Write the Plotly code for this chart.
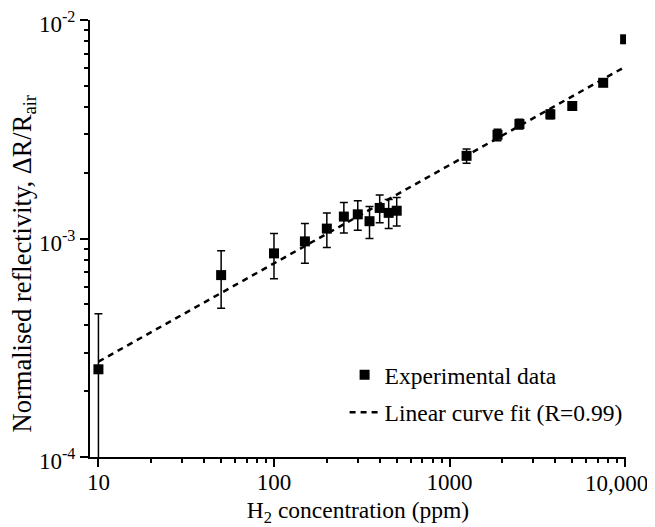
import plotly.graph_objects as go

# Data
conc_ppm = [10, 50, 100, 150, 200, 250, 300, 350, 400, 450, 500,
            1250, 1875, 2500, 3750, 5000, 7500, 10000]
reflectivity = [2.52e-4, 6.8e-4, 8.55e-4, 9.7e-4, 1.11e-3, 1.26e-3, 1.29e-3,
                1.20e-3, 1.38e-3, 1.31e-3, 1.34e-3, 2.39e-3, 2.98e-3, 3.34e-3,
                3.70e-3, 4.04e-3, 5.16e-3, 8.16e-3]
refl_err = [2.0e-4, 2.0e-4, 2.0e-4, 2.0e-4, 2.0e-4, 2.0e-4, 2.0e-4, 2.0e-4,
            2.0e-4, 2.0e-4, 2.0e-4, 1.8e-4, 1.8e-4, 1.7e-4, 1.7e-4, 1.5e-4,
            1.5e-4, 1.5e-4]

fit_x = [10, 10000]
fit_y = [2.73e-4, 6.11e-3]

x_tickvals = [10, 100, 1000, 10000]
x_ticktext = ["10", "100", "1000", ""]
x_last_label = "10,000"   # drawn right-aligned at the last tick so it stays on the page
y_tickvals = [1e-4, 1e-3, 1e-2]
y_ticktext = ["10<sup>-4</sup>", "10<sup>-3</sup>", "10<sup>-2</sup>"]

x_minor = [m * 10 ** k for k in (1, 2, 3) for m in range(2, 10)]
y_minor = [m * 10.0 ** k for k in (-4, -3) for m in range(2, 10)]

FONT = "Liberation Serif"

fig = go.Figure()

fig.add_trace(go.Scatter(
    x=fit_x, y=fit_y, mode="lines",
    name="Linear curve fit (R=0.99)",
    line=dict(color="black", width=2.5, dash="6px,5px"),
    legendrank=2, legendgroup="b",
))

fig.add_trace(go.Scatter(
    x=conc_ppm, y=reflectivity, mode="markers",
    name="Experimental data",
    marker=dict(symbol="square", size=10, color="black"),
    error_y=dict(type="data", array=refl_err, visible=True,
                 color="black", thickness=1.5, width=4),
    legendrank=1, legendgroup="a",
))

axis_common = dict(
    showline=True, linecolor="black", linewidth=2,
    ticks="outside", ticklen=8, tickwidth=2, tickcolor="black",
    showgrid=False, zeroline=False, mirror=False, automargin=False,
    ticklabeloverflow="allow",
    tickfont=dict(family=FONT, size=23, color="black"),
)

fig.update_xaxes(
    type="log", range=[0.952, 4.005],
    tickmode="array", tickvals=x_tickvals, ticktext=x_ticktext,
    ticklabelstandoff=-5,
    minor=dict(ticks="outside", ticklen=4, tickwidth=2, tickcolor="black",
               tickmode="array", tickvals=x_minor, showgrid=False),
    title=dict(text="H<sub>2</sub> concentration (ppm)",
               font=dict(family=FONT, size=23.5, color="black")),
    **axis_common,
)
fig.update_yaxes(
    type="log", range=[-4, -2],
    tickmode="array", tickvals=y_tickvals, ticktext=y_ticktext,
    ticklabelshift=4,
    minor=dict(ticks="outside", ticklen=4, tickwidth=2, tickcolor="black",
               tickmode="array", tickvals=y_minor, showgrid=False),
    **axis_common,
)

fig.add_annotation(
    text=x_last_label, xref="x", yref="paper", x=4, y=0,
    xanchor="right", yanchor="middle", xshift=25, yshift=-26,
    showarrow=False, font=dict(family=FONT, size=23, color="black"),
)

# y-axis title as an annotation so it can sit where the reference has it
fig.add_annotation(
    text="Normalised reflectivity, ΔR/R<sub>air</sub>",
    xref="paper", yref="paper", x=-0.124, y=0.442,
    xanchor="center", yanchor="middle", textangle=-90, showarrow=False,
    font=dict(family=FONT, size=26.5, color="black"),
)

# page body has an 8px margin, so the figure is sized 8px smaller
fig.update_layout(
    width=647, height=519,
    margin=dict(l=82, r=29, t=12, b=70),
    paper_bgcolor="white", plot_bgcolor="white",
    font=dict(family=FONT, size=23, color="black"),
    showlegend=True,
    legend=dict(x=0.475, y=0.238, xanchor="left", yanchor="top",
                bgcolor="rgba(0,0,0,0)", font=dict(family=FONT, size=23.5),
                itemwidth=30, tracegroupgap=4, traceorder="grouped"),
)

fig.write_html("out.html")
